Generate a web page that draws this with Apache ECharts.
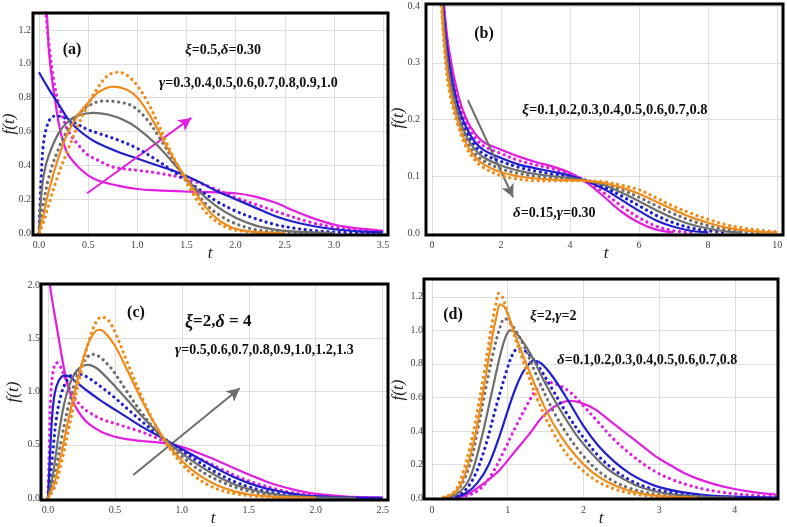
<!DOCTYPE html>
<html><head><meta charset="utf-8">
<script src="https://cdn.jsdelivr.net/npm/echarts@6/dist/echarts.min.js"></script>
<style>html,body{margin:0;padding:0;background:#fff}#c{width:787px;height:527px}</style>
</head><body><div id="c"></div>
<script>
// ---------- Panel (a): xi=0.5, delta=0.30, gamma = 0.3..1.0 ----------
const aGammaLabels = ['0.3','0.4','0.5','0.6','0.7','0.8','0.9','1.0'];
const aG03 = [[0.06,1.45],[0.08,1.3],[0.1,1.08],[0.13,0.92],[0.16,0.8],[0.2,0.65],[0.25,0.53],[0.3,0.46],[0.4,0.39],[0.5,0.34],[0.6,0.31],[0.8,0.28],[1.0,0.26],[1.2,0.252],[1.5,0.245],[1.8,0.24],[2.0,0.235],[2.2,0.215],[2.4,0.18],[2.6,0.13],[2.8,0.085],[3.0,0.05],[3.2,0.03],[3.5,0.013]];
const aG04 = [[0.05,1.45],[0.07,1.3],[0.1,1.12],[0.15,0.9],[0.2,0.76],[0.25,0.67],[0.3,0.6],[0.4,0.52],[0.5,0.46],[0.6,0.43],[0.75,0.39],[1.0,0.37],[1.2,0.355],[1.5,0.32],[1.75,0.27],[2.0,0.21],[2.25,0.16],[2.5,0.11],[2.75,0.065],[3.0,0.035],[3.25,0.018],[3.5,0.008]];
const aG05 = [[0,0.95],[0.1,0.85],[0.2,0.76],[0.3,0.67],[0.4,0.61],[0.5,0.565],[0.6,0.53],[0.8,0.48],[1.0,0.44],[1.2,0.4],[1.4,0.36],[1.6,0.31],[1.8,0.25],[2.0,0.2],[2.2,0.15],[2.4,0.1],[2.6,0.065],[2.8,0.04],[3.0,0.022],[3.25,0.01],[3.5,0.004]];
const aG06 = [[0,0],[0.02,0.3],[0.05,0.55],[0.1,0.66],[0.15,0.69],[0.2,0.69],[0.3,0.67],[0.4,0.64],[0.5,0.61],[0.6,0.59],[0.8,0.55],[1.0,0.5],[1.2,0.43],[1.4,0.35],[1.6,0.27],[1.8,0.19],[2.0,0.13],[2.2,0.085],[2.4,0.05],[2.6,0.028],[2.8,0.014],[3.0,0.006],[3.5,0.001]];
const aG07 = [[0,0],[0.02,0.2],[0.05,0.35],[0.1,0.46],[0.2,0.59],[0.3,0.66],[0.4,0.695],[0.55,0.71],[0.7,0.7],[0.85,0.67],[1.0,0.62],[1.2,0.52],[1.4,0.39],[1.6,0.26],[1.8,0.16],[2.0,0.09],[2.2,0.045],[2.4,0.02],[2.6,0.008],[3.0,0.001]];
const aG08 = [[0,0],[0.03,0.12],[0.1,0.33],[0.2,0.5],[0.3,0.62],[0.4,0.7],[0.5,0.75],[0.65,0.78],[0.8,0.775],[0.95,0.75],[1.1,0.67],[1.25,0.54],[1.4,0.4],[1.55,0.28],[1.7,0.17],[1.85,0.1],[2.0,0.055],[2.2,0.02],[2.4,0.008],[2.8,0.001]];
const aG09 = [[0,0],[0.05,0.12],[0.1,0.25],[0.2,0.45],[0.3,0.6],[0.4,0.7],[0.5,0.77],[0.6,0.83],[0.75,0.865],[0.9,0.845],[1.0,0.8],[1.1,0.72],[1.2,0.62],[1.3,0.51],[1.4,0.41],[1.5,0.32],[1.6,0.23],[1.7,0.15],[1.8,0.09],[1.9,0.05],[2.0,0.025],[2.2,0.005],[2.5,0]];
const aG10 = [[0,0],[0.05,0.07],[0.1,0.17],[0.2,0.35],[0.3,0.5],[0.4,0.64],[0.5,0.76],[0.6,0.86],[0.7,0.93],[0.8,0.95],[0.9,0.93],[1.0,0.87],[1.1,0.78],[1.2,0.66],[1.3,0.53],[1.4,0.41],[1.5,0.3],[1.6,0.2],[1.7,0.12],[1.8,0.07],[1.9,0.035],[2.0,0.017],[2.2,0.004],[2.5,0]];
const aArrow = [[0.49,0.235],[1.55,0.68]];

// ---------- Panel (b): delta=0.15, gamma=0.30, xi = 0.1..0.8 ----------
const bXi01 = [[0.25,0.5],[0.35,0.4],[0.5,0.32],[0.75,0.245],[1.0,0.2],[1.25,0.175],[1.5,0.16],[2.0,0.147],[2.5,0.135],[3.0,0.125],[3.5,0.117],[4.0,0.106],[4.5,0.088],[5.0,0.063],[5.5,0.037],[6.0,0.018],[6.5,0.006],[7.0,0.001]];
const bXi02 = [[0.25,0.49],[0.35,0.39],[0.5,0.31],[0.75,0.235],[1.0,0.192],[1.25,0.168],[1.5,0.153],[2.0,0.14],[2.5,0.128],[3.0,0.12],[3.5,0.113],[4.0,0.104],[4.5,0.09],[5.0,0.07],[5.5,0.047],[6.0,0.027],[6.5,0.012],[7.0,0.004],[7.5,0.001]];
const bXi03 = [[0.25,0.48],[0.35,0.38],[0.5,0.3],[0.75,0.225],[1.0,0.185],[1.25,0.16],[1.5,0.146],[2.0,0.132],[2.5,0.121],[3.0,0.114],[3.5,0.108],[4.0,0.101],[4.5,0.091],[5.0,0.077],[5.5,0.058],[6.0,0.039],[6.5,0.022],[7.0,0.011],[7.5,0.004],[8.0,0.001]];
const bXi04 = [[0.25,0.47],[0.35,0.37],[0.5,0.29],[0.75,0.218],[1.0,0.178],[1.25,0.153],[1.5,0.139],[2.0,0.126],[2.5,0.116],[3.0,0.109],[3.5,0.104],[4.0,0.099],[4.5,0.092],[5.0,0.081],[5.5,0.065],[6.0,0.048],[6.5,0.031],[7.0,0.018],[7.5,0.009],[8.0,0.004],[8.5,0.001]];
const bXi05 = [[0.25,0.46],[0.35,0.36],[0.5,0.28],[0.75,0.21],[1.0,0.17],[1.25,0.147],[1.5,0.133],[2.0,0.119],[2.5,0.11],[3.0,0.104],[3.5,0.1],[4.0,0.097],[4.5,0.092],[5.0,0.084],[5.5,0.071],[6.0,0.056],[6.5,0.04],[7.0,0.026],[7.5,0.015],[8.0,0.008],[8.5,0.003],[9.0,0.001]];
const bXi06 = [[0.25,0.45],[0.35,0.35],[0.5,0.27],[0.75,0.203],[1.0,0.163],[1.25,0.14],[1.5,0.127],[2.0,0.113],[2.5,0.105],[3.0,0.1],[3.5,0.097],[4.0,0.095],[4.5,0.092],[5.0,0.086],[5.5,0.076],[6.0,0.063],[6.5,0.048],[7.0,0.034],[7.5,0.022],[8.0,0.013],[8.5,0.006],[9.0,0.002],[9.5,0.001]];
const bXi07 = [[0.25,0.44],[0.35,0.34],[0.5,0.26],[0.75,0.196],[1.0,0.157],[1.25,0.134],[1.5,0.121],[2.0,0.107],[2.5,0.1],[3.0,0.096],[3.5,0.094],[4.0,0.093],[4.5,0.092],[5.0,0.088],[5.5,0.08],[6.0,0.069],[6.5,0.055],[7.0,0.041],[7.5,0.028],[8.0,0.018],[8.5,0.01],[9.0,0.005],[9.5,0.002],[10.0,0.001]];
const bXi08 = [[0.25,0.43],[0.35,0.33],[0.5,0.25],[0.75,0.19],[1.0,0.15],[1.25,0.128],[1.5,0.115],[2.0,0.101],[2.5,0.095],[3.0,0.092],[3.5,0.092],[4.0,0.092],[4.5,0.092],[5.0,0.09],[5.5,0.084],[6.0,0.076],[6.5,0.062],[7.0,0.047],[7.5,0.035],[8.0,0.024],[8.5,0.015],[9.0,0.009],[9.5,0.005],[10.0,0.002]];
const bArrow = [[1.04,0.234],[2.35,0.063]];

// ---------- Panel (c): xi=2, delta=4, gamma = 0.5..1.3 ----------
const cG05 = [[0.005,2.1],[0.02,1.95],[0.05,1.72],[0.08,1.5],[0.1,1.35],[0.13,1.15],[0.16,1.0],[0.2,0.87],[0.25,0.77],[0.3,0.7],[0.4,0.62],[0.5,0.575],[0.6,0.55],[0.7,0.535],[0.8,0.525],[0.9,0.51],[1.0,0.48],[1.1,0.435],[1.2,0.385],[1.3,0.33],[1.4,0.275],[1.5,0.22],[1.6,0.17],[1.7,0.125],[1.8,0.09],[1.9,0.06],[2.0,0.04],[2.2,0.015],[2.5,0.003]];
const cG06 = [[0,0],[0.01,0.5],[0.02,0.95],[0.04,1.2],[0.065,1.27],[0.09,1.24],[0.12,1.15],[0.16,1.03],[0.2,0.94],[0.25,0.86],[0.3,0.81],[0.4,0.74],[0.5,0.7],[0.6,0.66],[0.7,0.62],[0.8,0.57],[0.9,0.51],[1.0,0.45],[1.1,0.39],[1.2,0.33],[1.3,0.27],[1.4,0.21],[1.5,0.16],[1.6,0.12],[1.7,0.085],[1.8,0.055],[1.9,0.035],[2.0,0.022],[2.2,0.008],[2.5,0.001]];
const cG07 = [[0,0],[0.015,0.4],[0.03,0.75],[0.05,0.98],[0.08,1.1],[0.12,1.15],[0.16,1.14],[0.2,1.1],[0.3,1.0],[0.4,0.91],[0.5,0.83],[0.6,0.75],[0.7,0.67],[0.8,0.6],[0.9,0.53],[1.0,0.46],[1.1,0.39],[1.2,0.32],[1.3,0.25],[1.4,0.19],[1.5,0.14],[1.6,0.1],[1.7,0.07],[1.8,0.045],[1.9,0.028],[2.0,0.017],[2.2,0.006],[2.5,0.001]];
const cG08 = [[0,0],[0.03,0.35],[0.06,0.72],[0.1,0.98],[0.15,1.12],[0.2,1.17],[0.25,1.16],[0.3,1.13],[0.4,1.04],[0.5,0.94],[0.6,0.83],[0.7,0.72],[0.8,0.62],[0.9,0.53],[1.0,0.44],[1.1,0.36],[1.2,0.28],[1.3,0.21],[1.4,0.15],[1.5,0.105],[1.6,0.07],[1.7,0.045],[1.8,0.028],[2.0,0.01],[2.3,0.002]];
const cG09 = [[0,0],[0.04,0.25],[0.08,0.6],[0.12,0.88],[0.16,1.06],[0.2,1.17],[0.25,1.235],[0.3,1.25],[0.35,1.23],[0.4,1.18],[0.5,1.05],[0.6,0.91],[0.7,0.77],[0.8,0.64],[0.9,0.52],[1.0,0.42],[1.1,0.33],[1.2,0.25],[1.3,0.18],[1.4,0.125],[1.5,0.085],[1.6,0.055],[1.7,0.035],[1.8,0.02],[2.0,0.007],[2.3,0.001]];
const cG10 = [[0,0],[0.05,0.22],[0.1,0.55],[0.15,0.85],[0.2,1.08],[0.25,1.24],[0.3,1.33],[0.33,1.35],[0.38,1.33],[0.45,1.25],[0.5,1.17],[0.6,0.98],[0.7,0.8],[0.8,0.64],[0.9,0.5],[1.0,0.39],[1.1,0.29],[1.2,0.21],[1.3,0.15],[1.4,0.1],[1.5,0.065],[1.6,0.04],[1.7,0.024],[1.8,0.014],[2.0,0.004]];
const cG12 = [[0,0],[0.05,0.15],[0.1,0.42],[0.15,0.72],[0.2,1.0],[0.25,1.25],[0.3,1.45],[0.35,1.56],[0.38,1.58],[0.42,1.56],[0.5,1.43],[0.6,1.18],[0.7,0.92],[0.8,0.69],[0.9,0.5],[1.0,0.35],[1.1,0.24],[1.2,0.16],[1.3,0.1],[1.4,0.06],[1.5,0.035],[1.6,0.02],[1.8,0.005],[2.0,0.001]];
const cG13 = [[0,0],[0.05,0.1],[0.1,0.33],[0.15,0.62],[0.2,0.92],[0.25,1.2],[0.3,1.45],[0.35,1.63],[0.4,1.7],[0.45,1.67],[0.5,1.56],[0.6,1.25],[0.7,0.95],[0.8,0.69],[0.9,0.48],[1.0,0.32],[1.1,0.2],[1.2,0.12],[1.3,0.07],[1.4,0.04],[1.5,0.022],[1.6,0.012],[1.8,0.003],[2.0,0]];
const cArrow = [[0.637,0.216],[1.433,1.03]];

// ---------- Panel (d): xi=2, gamma=2, delta = 0.1..0.8 ----------
const dD01 = [[0.3,0],[0.45,0.02],[0.6,0.06],[0.75,0.11],[0.9,0.17],[1.1,0.28],[1.3,0.39],[1.45,0.48],[1.6,0.54],[1.72,0.57],[1.82,0.58],[1.95,0.57],[2.15,0.53],[2.35,0.46],[2.55,0.39],[2.75,0.32],[2.95,0.25],[3.15,0.195],[3.35,0.145],[3.55,0.108],[3.75,0.08],[3.95,0.058],[4.2,0.038],[4.55,0.02]];
const dD02 = [[0.3,0],[0.5,0.02],[0.65,0.06],[0.8,0.15],[0.95,0.28],[1.1,0.42],[1.25,0.55],[1.37,0.64],[1.5,0.69],[1.6,0.685],[1.8,0.64],[2.0,0.55],[2.2,0.45],[2.4,0.35],[2.6,0.27],[2.8,0.2],[3.0,0.145],[3.2,0.105],[3.4,0.075],[3.6,0.052],[3.8,0.036],[4.0,0.025],[4.3,0.014],[4.55,0.008]];
const dD03 = [[0.3,0.005],[0.45,0.03],[0.6,0.09],[0.75,0.2],[0.9,0.38],[1.0,0.52],[1.1,0.65],[1.2,0.75],[1.3,0.81],[1.35,0.82],[1.45,0.8],[1.6,0.72],[1.8,0.58],[2.0,0.43],[2.2,0.31],[2.4,0.22],[2.6,0.15],[2.8,0.1],[3.0,0.065],[3.3,0.035],[3.6,0.018],[4.0,0.008],[4.55,0.003]];
const dD04 = [[0.25,0.005],[0.4,0.03],[0.55,0.12],[0.7,0.3],[0.85,0.55],[1.0,0.78],[1.08,0.87],[1.14,0.89],[1.25,0.87],[1.4,0.79],[1.6,0.64],[1.8,0.49],[2.0,0.36],[2.2,0.25],[2.4,0.17],[2.6,0.11],[2.8,0.07],[3.0,0.045],[3.3,0.022],[3.6,0.01],[4.0,0.004]];
const dD05 = [[0.2,0.003],[0.35,0.03],[0.5,0.12],[0.65,0.35],[0.8,0.65],[0.9,0.85],[0.98,0.97],[1.04,1.0],[1.12,0.98],[1.3,0.86],[1.5,0.68],[1.7,0.52],[1.9,0.38],[2.1,0.27],[2.3,0.18],[2.5,0.12],[2.7,0.075],[2.9,0.045],[3.2,0.02],[3.6,0.007],[4.0,0.002]];
const dD06 = [[0.2,0.005],[0.35,0.05],[0.5,0.2],[0.6,0.4],[0.7,0.63],[0.8,0.85],[0.9,1.02],[0.96,1.07],[1.03,1.05],[1.2,0.92],[1.4,0.71],[1.6,0.52],[1.8,0.37],[2.0,0.25],[2.2,0.16],[2.4,0.1],[2.6,0.06],[2.8,0.035],[3.0,0.02],[3.4,0.006],[4.0,0.001]];
const dD07 = [[0.15,0.003],[0.3,0.03],[0.4,0.1],[0.5,0.24],[0.6,0.44],[0.7,0.7],[0.8,0.97],[0.85,1.08],[0.9,1.155],[0.97,1.13],[1.1,0.97],[1.3,0.74],[1.5,0.53],[1.7,0.37],[1.9,0.25],[2.1,0.16],[2.3,0.1],[2.5,0.06],[2.7,0.033],[3.0,0.013],[3.5,0.002]];
const dD08 = [[0.15,0.005],[0.3,0.04],[0.4,0.14],[0.5,0.3],[0.6,0.52],[0.7,0.78],[0.8,1.06],[0.85,1.17],[0.875,1.22],[0.93,1.2],[1.05,1.02],[1.2,0.82],[1.4,0.58],[1.6,0.39],[1.8,0.25],[2.0,0.16],[2.2,0.095],[2.4,0.055],[2.6,0.03],[2.8,0.015],[3.0,0.007],[3.5,0.001]];

// ---------- axes (min, max, interval) ----------
const axesX = [[0,3.55,0.5],[0,10.17,2],[0,2.54,0.5],[0,4.57,1]];
const axesY = [[0,1.3,0.2],[0,0.4,0.1],[0,2.0,0.5],[0,1.3,0.2]];
const xDecimals = [1,0,1,0];

const COLORS = ['#e21ee0','#e21ee0','#1f1fcf','#1f1fcf','#6e6e6e','#6e6e6e','#f08c1c','#f08c1c'];
const DOTTED = [false,true,false,true,false,true,false,true];
const panelData = [
  [aG03,aG04,aG05,aG06,aG07,aG08,aG09,aG10],
  [bXi01,bXi02,bXi03,bXi04,bXi05,bXi06,bXi07,bXi08],
  [cG05,cG06,cG07,cG08,cG09,cG10,cG12,cG13],
  [dD01,dD02,dD03,dD04,dD05,dD06,dD07,dD08]
];
const arrows = [[aArrow,'#e21ee0'],[bArrow,'#6e6e6e'],[cArrow,'#6e6e6e'],null];

// layout (pixels)
const grids = [
  {left:39, top:13, width:349, height:220},
  {left:432, top:6, width:351, height:227},
  {left:48, top:285, width:340, height:213},
  {left:432, top:280, width:346, height:218}
];
const frames = [[33,13,355,222],[426,4,357,231],[41,284,347,216],[424,279,354,220]];
const yLabelMargin = [8,12,8,9];

const chart = echarts.init(document.getElementById('c'), null, {renderer:'canvas'});
const xAxis = [], yAxis = [], series = [];
function isMult(v, i){ const r = v/i; return Math.abs(r - Math.round(r)) < 1e-6; }
for (let p = 0; p < 4; p++) {
  const [x0,x1,xi] = axesX[p], [y0,y1,yi] = axesY[p];
  xAxis.push({type:'value', gridIndex:p, min:x0, max:x1, interval:xi,
    axisLine:{show:false}, axisTick:{show:false},
    splitLine:{show:true, lineStyle:{color:'#dedede', width:1}},
    axisLabel:{fontFamily:'Liberation Serif', fontSize:10, color:'#444', margin:7,
      showMaxLabel:isMult(x1,xi), formatter:(v)=>v.toFixed(xDecimals[p])}});
  yAxis.push({type:'value', gridIndex:p, min:y0, max:y1, interval:yi,
    axisLine:{show:false}, axisTick:{show:false},
    splitLine:{show:true, lineStyle:{color:'#dedede', width:1}},
    axisLabel:{fontFamily:'Liberation Serif', fontSize:10, color:'#444', margin:yLabelMargin[p],
      showMaxLabel:isMult(y1,yi), formatter:(v)=>v.toFixed(1)}});
  panelData[p].forEach((d, k) => {
    series.push({type:'line', xAxisIndex:p, yAxisIndex:p, data:d, smooth:0.35, symbol:'none',
      clip:true, silent:true, z: 2 + k,
      lineStyle: DOTTED[k] ? {color:COLORS[k], width:3.2, type:[0.1,5.6], cap:'round'}
                           : {color:COLORS[k], width:2.2}});
  });
  if (arrows[p]) {
    const [pts, col] = arrows[p];
    series.push({type:'line', xAxisIndex:p, yAxisIndex:p, data:[], silent:true, z:20,
      markLine:{silent:true, symbol:['none','arrow'], symbolSize:[10,13], animation:false,
        label:{show:false}, lineStyle:{color:col, width:2, type:'solid'},
        data:[[{coord:pts[0]},{coord:pts[1]}]]}});
  }
}

const serif = 'Liberation Serif';
const graphics = [];
frames.forEach(f => graphics.push({type:'rect', shape:{x:f[0], y:f[1], width:f[2], height:f[3]},
  style:{fill:null, stroke:'#000', lineWidth:3}, z:100, silent:true}));
function label(x, y, text, size, align){
  graphics.push({type:'text', x, y, z:101, silent:true,
    style:{text, fontFamily:serif, fontWeight:'bold', fontSize:size, fill:'#111',
      align:align||'left', verticalAlign:'middle',
      rich:{g:{fontFamily:serif, fontStyle:'italic', fontWeight:'bold', fontSize:size+1, fill:'#111'}}}});
}
label(72,50,'(a)',16,'center');
label(185,50,'{g|ξ}=0.5,{g|δ}=0.30',14);
label(159,83,'{g|γ}=0.3,0.4,0.5,0.6,0.7,0.8,0.9,1.0',14);
label(484,34,'(b)',16,'center');
label(522,110,'{g|ξ}=0.1,0.2,0.3,0.4,0.5,0.6,0.7,0.8',14.5);
label(513,213,'{g|δ}=0.15,{g|γ}=0.30',14);
label(136,313,'(c)',16,'center');
label(185,322,'{g|ξ}=2,{g|δ} = 4',17);
label(175,350,'{g|γ}=0.5,0.6,0.7,0.8,0.9,1.0,1.2,1.3',14);
label(453,315,'(d)',16,'center');
label(530,316,'{g|ξ}=2,{g|γ}=2',14);
label(557,360,'{g|δ}=0.1,0.2,0.3,0.4,0.5,0.6,0.7,0.8',14);

function axisTitle(x, y, text, rot){
  graphics.push({type:'text', x, y, rotation:rot||0, z:101, silent:true,
    style:{text, fontFamily:serif, fontStyle:'italic', fontSize:17, fill:'#222', align:'center', verticalAlign:'middle'}});
}
axisTitle(10,124,'f(t)',Math.PI/2);
axisTitle(399,118,'f(t)',Math.PI/2);
axisTitle(14,392,'f(t)',Math.PI/2);
axisTitle(399,390,'f(t)',Math.PI/2);
axisTitle(210,254,'t');
axisTitle(606,254,'t');
axisTitle(213,519,'t');
axisTitle(601,519,'t');

chart.setOption({
  backgroundColor:'#fff', animation:false,
  grid: grids.map(g => Object.assign({containLabel:false}, g)),
  xAxis, yAxis, series, graphic: graphics
});
</script></body></html>
